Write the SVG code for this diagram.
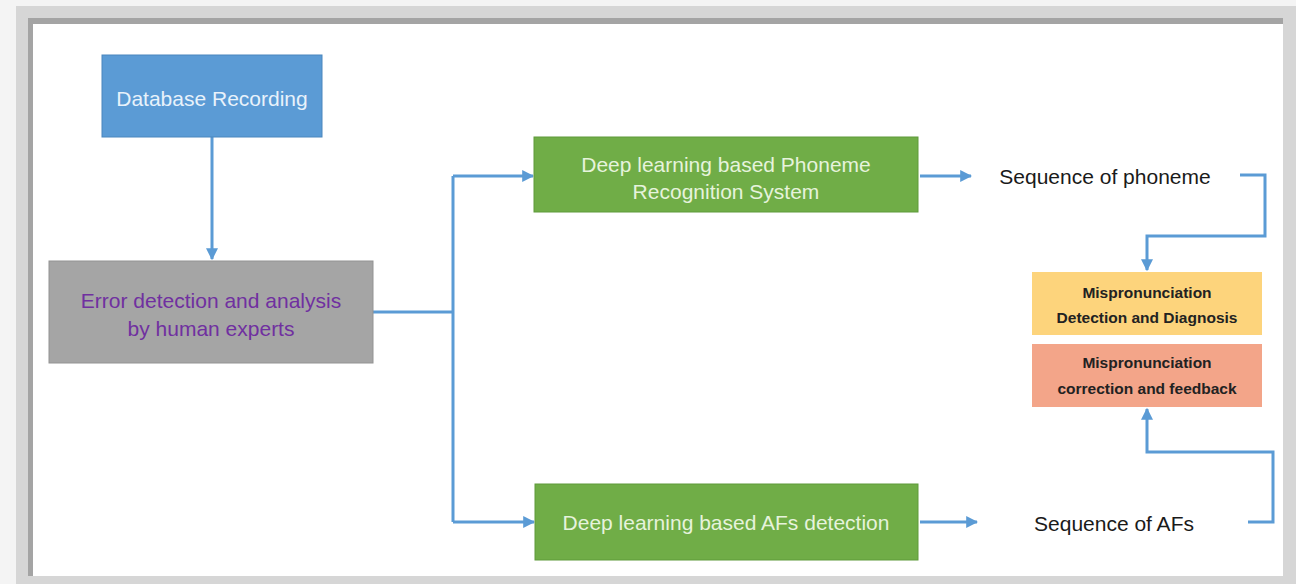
<svg xmlns="http://www.w3.org/2000/svg" width="1296" height="584" viewBox="0 0 1296 584">
<style>
.main{font-family:"Liberation Sans",Arial,sans-serif;font-size:21px;text-anchor:middle;dominant-baseline:central}
.small{font-family:"Liberation Sans",Arial,sans-serif;font-size:15.5px;font-weight:bold;fill:#222;text-anchor:middle;dominant-baseline:central}
.conn{fill:none;stroke:#5b9bd5;stroke-width:3}
</style>
<defs>
<marker id="ah" viewBox="0 0 10 10" refX="9" refY="5" markerWidth="4" markerHeight="4" orient="auto" markerUnits="strokeWidth">
<path d="M0,0 L10,5 L0,10 z" fill="#5b9bd5"/>
</marker>
</defs>
<rect x="0" y="0" width="1296" height="584" fill="#f4f4f4"/>
<rect x="16" y="6" width="1280" height="578" fill="#d6d6d6"/>
<rect x="28" y="18" width="1255" height="558" fill="#a4a4a4"/>
<rect x="33" y="24" width="1250" height="552" fill="#ffffff"/>

<g id="connectors">
<path class="conn" d="M212,137 V259" marker-end="url(#ah)"/>
<path class="conn" d="M373,312 H453"/>
<path class="conn" d="M453,176 V522"/>
<path class="conn" d="M453,176 H533" marker-end="url(#ah)"/>
<path class="conn" d="M453,522 H534" marker-end="url(#ah)"/>
<path class="conn" d="M920,176 H971" marker-end="url(#ah)"/>
<path class="conn" d="M920,522 H977" marker-end="url(#ah)"/>
<path class="conn" d="M1240,175 H1265 V236 H1147 V270" marker-end="url(#ah)"/>
<path class="conn" d="M1248,522 H1273 V452 H1147 V409" marker-end="url(#ah)"/>
</g>

<g id="db">
<rect x="102" y="55" width="220" height="82" fill="#5b9bd5" stroke="#4a86bd" stroke-width="1"/>
<text class="main" x="212" y="98" fill="#e8f2fb">Database Recording</text>
</g>
<g id="error">
<rect x="49" y="261" width="324" height="102" fill="#a5a5a5" stroke="#939393" stroke-width="1"/>
<text class="main" x="211" y="300" fill="#7030a0">Error detection and analysis</text>
<text class="main" x="211" y="328" fill="#7030a0">by human experts</text>
</g>
<g id="phoneme">
<rect x="534" y="137" width="384" height="75" fill="#70ad47" stroke="#5f9a3b" stroke-width="1"/>
<text class="main" x="726" y="164" fill="#e6f3dc">Deep learning based Phoneme</text>
<text class="main" x="726" y="191" fill="#e6f3dc">Recognition System</text>
</g>
<g id="afs">
<rect x="535" y="484" width="383" height="76" fill="#70ad47" stroke="#5f9a3b" stroke-width="1"/>
<text class="main" x="726" y="522" fill="#e6f3dc">Deep learning based AFs detection</text>
</g>
<g id="seqphon">
<text class="main" x="1105" y="176" fill="#1a1a1a">Sequence of phoneme</text>
</g>
<g id="seqafs">
<text class="main" x="1114" y="523" fill="#1a1a1a">Sequence of AFs</text>
</g>
<g id="mdd">
<rect x="1032" y="272" width="230" height="63" fill="#fdd47c"/>
<text class="small" x="1147" y="292">Mispronunciation</text>
<text class="small" x="1147" y="317">Detection and Diagnosis</text>
</g>
<g id="mcf">
<rect x="1032" y="344" width="230" height="63" fill="#f3a589"/>
<text class="small" x="1147" y="362">Mispronunciation</text>
<text class="small" x="1147" y="388">correction and feedback</text>
</g>
</svg>
